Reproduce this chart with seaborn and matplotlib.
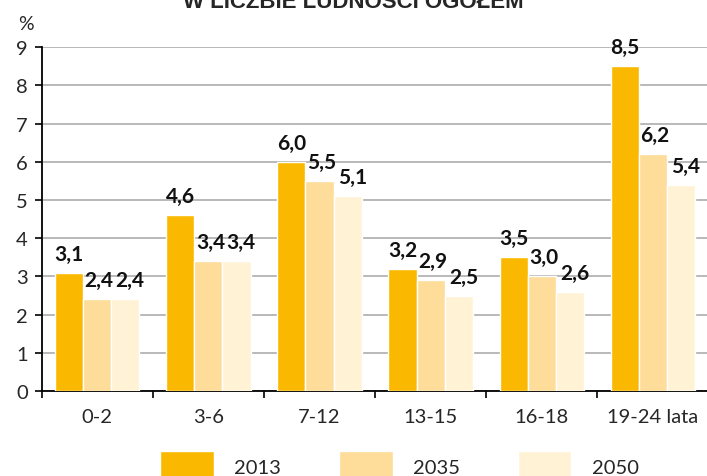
import matplotlib
matplotlib.use("Agg")
import matplotlib.pyplot as plt
import seaborn as sns
import pandas as pd
import numpy as np

categories = ["0-2", "3-6", "7-12", "13-15", "16-18", "19-24 lata"]
years = ["2013", "2035", "2050"]
v2013 = [3.1, 4.6, 6.0, 3.2, 3.5, 8.5]
v2035 = [2.4, 3.4, 5.5, 2.9, 3.0, 6.2]
v2050 = [2.4, 3.4, 5.1, 2.5, 2.6, 5.4]
colors = ["#FAB900", "#FEDC99", "#FFF2D5"]
title = "W LICZBIE LUDNOŚCI OGÓŁEM"

rows = []
for yr, vals in zip(years, [v2013, v2035, v2050]):
    for c, v in zip(categories, vals):
        rows.append({"cat": c, "year": yr, "val": v})
df = pd.DataFrame(rows)

sns.set_style("white")
plt.rcParams["font.family"] = ["Lato", "DejaVu Sans"]

fig = plt.figure(figsize=(7.07, 4.77), dpi=100)
ax = fig.add_axes([0.059, 0.178, 0.943, 0.721])

sns.barplot(data=df, x="cat", y="val", hue="year", order=categories,
            hue_order=years, palette=colors, width=0.76, saturation=1,
            edgecolor="white", linewidth=1.0, ax=ax, legend=True, zorder=3)

label_dx = [0.0, 1.4, 3.4]
for cont, dx in zip(ax.containers, label_dx):
    labels = [f"{v:.1f}".replace(".", ",") for v in cont.datavalues]
    anns = ax.bar_label(cont, labels=labels, padding=6, fontsize=15,
                        fontweight="bold", color="#111111")
    for a in anns:
        a.xyann = (dx, 6.5)

ax.set_ylim(0, 9)
ax.set_xlim(-0.5, 5.5)
ax.set_yticks(range(0, 10))
ax.yaxis.grid(True, color="#A6A6A6", linewidth=1.1, zorder=0)
ax.set_axisbelow(True)
for s in ["top", "right"]:
    ax.spines[s].set_visible(False)
for s in ["left", "bottom"]:
    ax.spines[s].set_color("black")
    ax.spines[s].set_linewidth(1.3)
ax.set_xlabel("")
ax.set_ylabel("")
ax.tick_params(axis="y", which="major", length=5, width=1.2, color="black",
               direction="out", left=True, labelsize=14.5, pad=5)
ax.set_xticks(np.arange(-0.5, 6.0, 1.0), minor=True)
ax.tick_params(axis="x", which="minor", length=5, width=1.2, color="black",
               direction="out", bottom=True)
ax.tick_params(axis="x", which="major", length=0, labelsize=14.5, pad=12)

ax.text(-0.035, 1.045, "%", transform=ax.transAxes, fontsize=14,
        ha="left", va="bottom")

fig.text(0.50, 0.984, title, fontsize=16, fontweight="bold",
         ha="center", va="baseline", family=["Liberation Sans", "DejaVu Sans"])

handles, labs = ax.get_legend_handles_labels()
ax.get_legend().remove()
fig.legend(handles, labs, loc="lower center", bbox_to_anchor=(0.565, -0.05),
           ncol=3, frameon=False, fontsize=14.5, handlelength=2.65,
           handleheight=2.0, handletextpad=1.0, columnspacing=2.9)

fig.savefig("out.png", dpi=100)
